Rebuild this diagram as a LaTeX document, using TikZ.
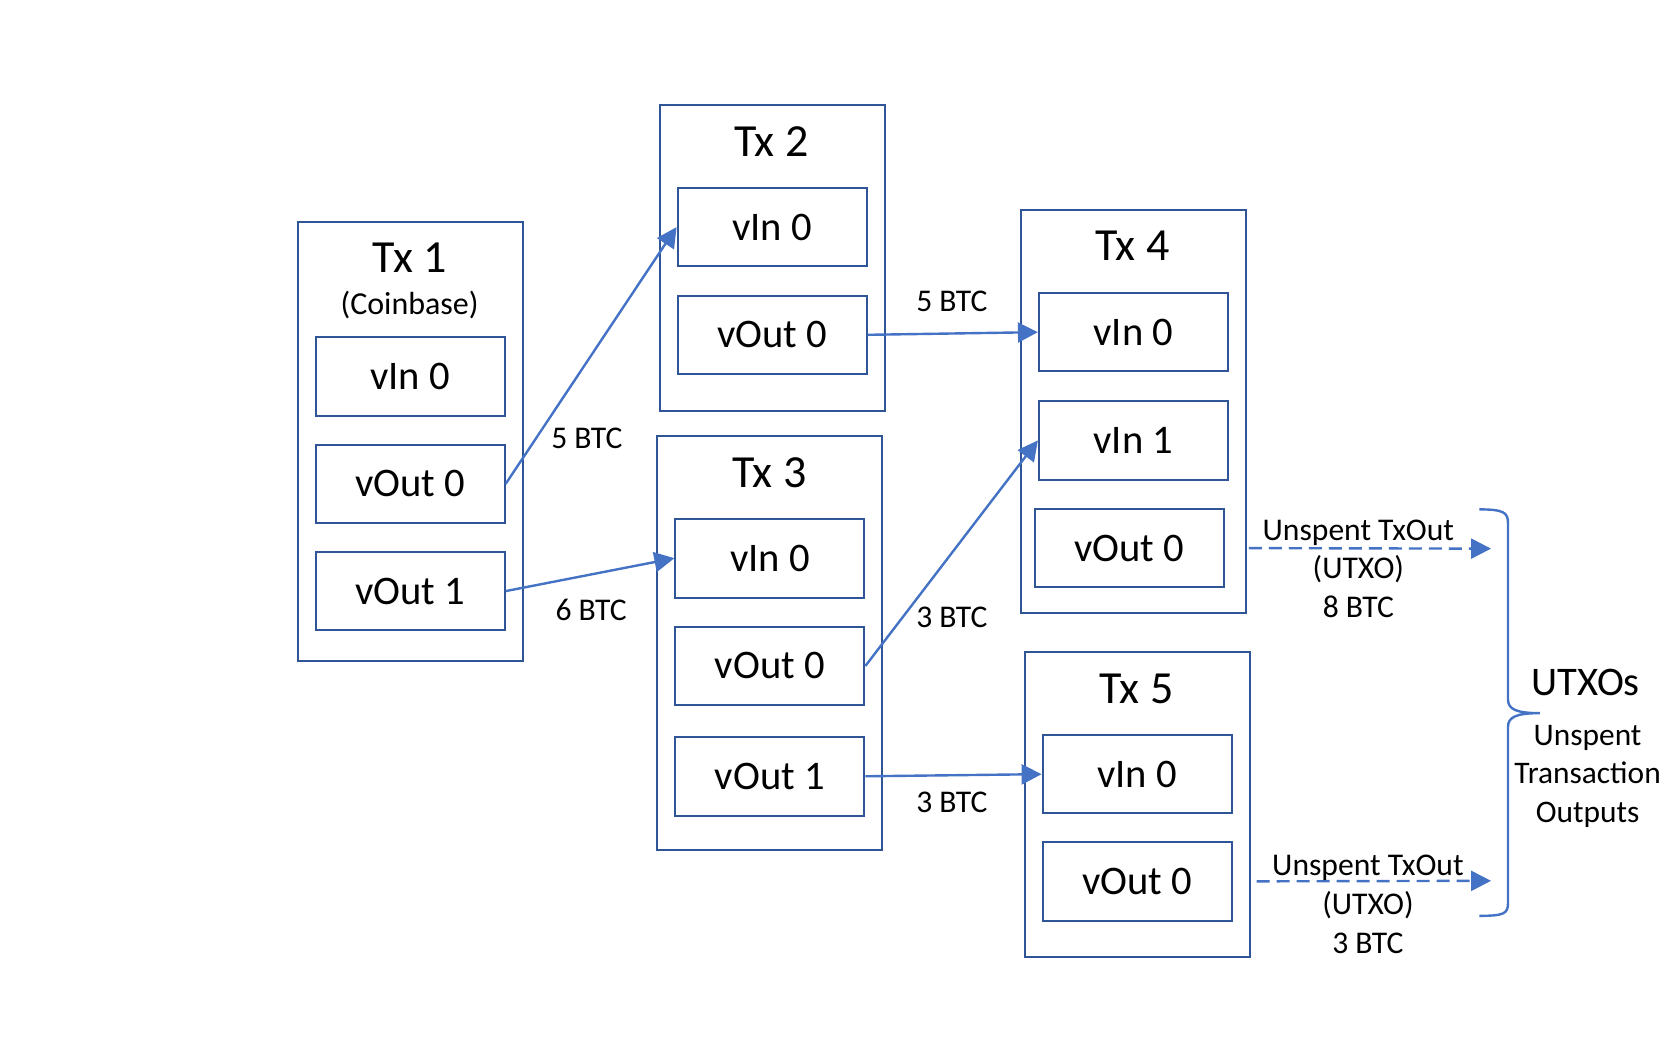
\documentclass[tikz,border=0pt]{standalone}
\usepackage{fontspec}
\setmainfont{Carlito}
\usetikzlibrary{arrows.meta}
\definecolor{boxblue}{HTML}{2F5597}
\definecolor{linkblue}{HTML}{4472C4}

\begin{document}
\begin{tikzpicture}[x=0.5306pt, y=-0.5306pt,
  tx/.style={rectangle, draw=boxblue, line width=1pt, minimum width=112.5pt, inner sep=0pt},
  field/.style={rectangle, draw=boxblue, line width=1pt, minimum width=94.5pt, minimum height=39.3pt, inner sep=0pt, font=\fontsize{20.3}{24}\selectfont},
  title/.style={font=\fontsize{23}{27}\selectfont},
  amount/.style={font=\fontsize{15.8}{19}\selectfont},
  utxo/.style={align=center, font=\fontsize{15.8}{19.4}\selectfont},
  arrow/.style={-{Triangle[length=10pt,width=10pt]}, line width=1.2pt, draw=linkblue},
  unspent/.style={arrow, dash pattern=on 6.5pt off 3.5pt}
]
\useasboundingbox (0,0) rectangle (1568,1000.8);

% transactions
\node[tx, minimum height=219.7pt] (tx1) at (387,416) {};
\node[tx, minimum height=152.8pt] (tx2) at (727.5,243) {};
\node[tx, minimum height=206.9pt] (tx3) at (725.5,606) {};
\node[tx, minimum height=201.6pt] (tx4) at (1068,388) {};
\node[tx, minimum height=152.8pt] (tx5) at (1071.5,758) {};

\node[title] (t1) at (386,243) {Tx 1};
\node[font=\fontsize{16}{19}\selectfont] (cb) at (386,287) {(Coinbase)};
\node[title] (t2) at (727,133) {Tx 2};
\node[title] (t3) at (725,445) {Tx 3};
\node[title] (t4) at (1067,232) {Tx 4};
\node[title] (t5) at (1071,649) {Tx 5};

% inputs and outputs
\node[field] (t1i0) at (386.5,355) {vIn 0};
\node[field] (t1o0) at (386.5,456) {vOut 0};
\node[field] (t1o1) at (386.5,557) {vOut 1};
\node[field] (t2i0) at (727.5,214) {vIn 0};
\node[field] (t2o0) at (727.5,315.5) {vOut 0};
\node[field] (t3i0) at (725.5,526) {vIn 0};
\node[field] (t3o0) at (725.5,627.5) {vOut 0};
\node[field] (t3o1) at (725.5,731.5) {vOut 1};
\node[field] (t4i0) at (1068,313) {vIn 0};
\node[field] (t4i1) at (1068,415) {vIn 1};
\node[field] (t4o0) at (1064,516.5) {vOut 0};
\node[field] (t5i0) at (1071.5,729.5) {vIn 0};
\node[field] (t5o0) at (1071.5,830.5) {vOut 0};

\draw[arrow] (t1o0.east) -- (t2i0.west);
\draw[arrow] (t1o1.east) -- (t3i0.west);
\draw[arrow] (t2o0.east) -- (t4i0.west);
\draw[arrow] (t3o0.east) -- (t4i1.west);
\draw[arrow] (t3o1.east) -- (t5i0.west);

\node[amount] (a1) at (553,413) {5 BTC};
\node[amount] (a2) at (557,575) {6 BTC};
\node[amount] (a3) at (897,284) {5 BTC};
\node[amount] (a4) at (897,582) {3 BTC};
\node[amount] (a5) at (897,756) {3 BTC};

% unspent outputs
\coordinate (u1) at (1405,517);
\coordinate (u2) at (1405,830);
\draw[unspent] ([xshift=1pt]t4o0.east -| tx4.east) -- (u1);
\draw[unspent] ([xshift=3pt]t5o0.east -| tx5.east) -- (u2);
\node[utxo, anchor=north] (l1) at (1280,483) {Unspent TxOut\\(UTXO)\\8 BTC};
\node[utxo, anchor=north] (l2) at (1289,799) {Unspent TxOut\\(UTXO)\\3 BTC};

% brace
\coordinate (bt) at (1394,480);
\coordinate (bb) at (1394,863);
\draw[linkblue, line width=1.2pt] (bt) .. controls (1417,480) and (1421,483) .. (1421,493) -- (1421,659)
  .. controls (1421,668) and (1428,672) .. (1451,672) .. controls (1428,672) and (1421,676) .. (1421,685)
  -- (1421,851) .. controls (1421,861) and (1417,863) .. (bb);
\node[font=\fontsize{20.3}{24}\selectfont] (all) at (1494,643) {UTXOs};
\node[align=center, anchor=north, font=\fontsize{15.7}{19.1}\selectfont] (desc) at (1496,677) {Unspent\\Transaction\\Outputs};
\end{tikzpicture}
\end{document}
